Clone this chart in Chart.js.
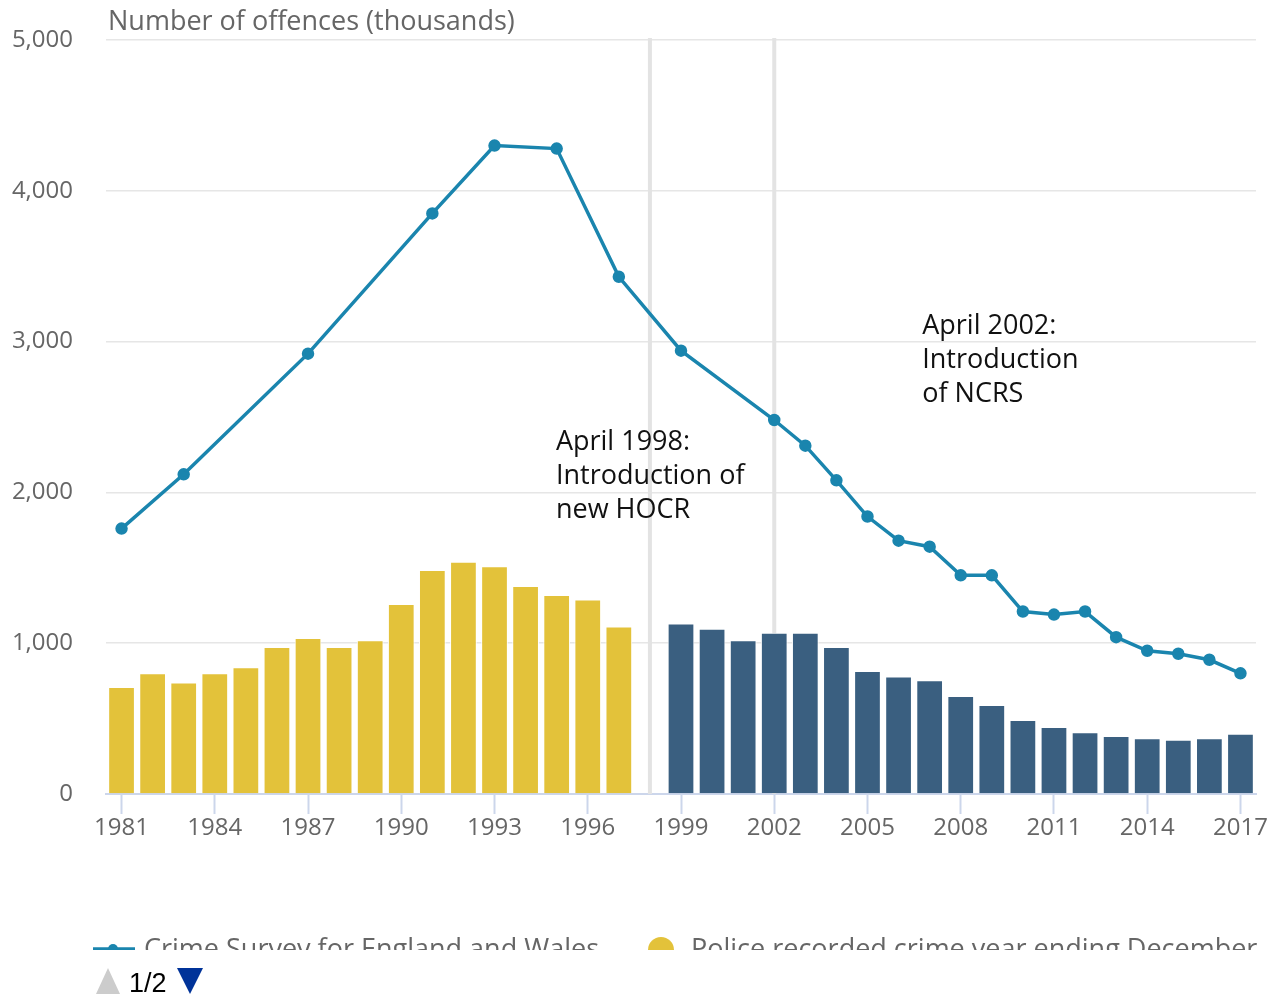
<!DOCTYPE html>
<html>
<head>
<meta charset="utf-8">
<script src="https://cdn.jsdelivr.net/npm/chart.js@4/dist/chart.umd.min.js"></script>
<style>
  body { margin: 0; background: #fff; font-family: 'Open Sans', sans-serif; }
  #wrap { position: relative; width: 1276px; height: 995px; }
  #legendClip { position: absolute; left: 0; top: 920px; width: 1276px; height: 30px; overflow: hidden; }
  .item { position: absolute; top: 9px; font-size: 27px; color: #666; white-space: nowrap; line-height: normal; }
  .sym { position: absolute; }
  #nav { position: absolute; left: 96px; top: 968px; height: 30px; font-family: 'Liberation Sans', Arial, sans-serif; font-size: 27px; color: #000; }
</style>
</head>
<body>
<div id="wrap">
  <canvas id="crimeChart" width="1276" height="995"></canvas>
  <div id="legendClip">
    <svg class="sym" style="left:93px;top:24px" width="42" height="10"><line x1="0" y1="5" x2="42" y2="5" stroke="#1a85ae" stroke-width="3.5"/><circle cx="20" cy="5" r="5" fill="#1a85ae"/></svg>
    <div class="item" style="left:144px">Crime Survey for England and Wales</div>
    <svg class="sym" style="left:647px;top:16px" width="28" height="28"><circle cx="14" cy="14" r="13" fill="#e3c23a"/></svg>
    <div class="item" style="left:691px">Police recorded crime year ending December</div>
  </div>
  <div id="nav">
    <svg width="24" height="26" style="position:absolute;left:0;top:0"><polygon points="12,0 24,26 0,26" fill="#cccccc"/></svg>
    <span style="position:absolute;left:33px;top:0">1/2</span>
    <svg width="26" height="26" style="position:absolute;left:81px;top:0"><polygon points="0,0 26,0 13,26" fill="#003399"/></svg>
  </div>
</div>
<script>
const years = ['1981','1982','1983','1984','1985','1986','1987','1988','1989','1990',
  '1991','1992','1993','1994','1995','1996','1997','1998','1999','2000',
  '2001','2002','2003','2004','2005','2006','2007','2008','2009','2010',
  '2011','2012','2013','2014','2015','2016','2017'];

// Crime Survey for England and Wales (thousands)
const csew = [1760, null, 2120, null, null, null, 2920, null, null, null,
  3850, null, 4300, null, 4280, null, 3430, null, 2940, null,
  null, 2480, 2310, 2080, 1840, 1680, 1640, 1450, 1450, 1210,
  1190, 1210, 1040, 950, 930, 890, 800];

// Police recorded crime, year ending December (1981-1997)
const prcDec = [710, 800, 740, 800, 840, 975, 1035, 975, 1020, 1260,
  1485, 1540, 1510, 1380, 1320, 1290, 1110, null, null, null,
  null, null, null, null, null, null, null, null, null, null,
  null, null, null, null, null, null, null];

// Police recorded crime, year ending March (1999-2017)
const prcMar = [null, null, null, null, null, null, null, null, null, null,
  null, null, null, null, null, null, null, null, 1130, 1095,
  1020, 1070, 1070, 975, 815, 780, 755, 650, 590, 490,
  445, 410, 385, 370, 360, 370, 400];

const refLines = ['1998', '2002'];
const notes = [
  { year: '1998', dx: -94, y: 2330, lines: ['April 1998:', 'Introduction of', 'new HOCR'] },
  { year: '2002', dx: 148, y: 3100, lines: ['April 2002:', 'Introduction', 'of NCRS'] }
];

const extras = {
  id: 'extras',
  beforeDatasetsDraw(chart) {
    const { ctx, chartArea, scales } = chart;
    ctx.save();
    ctx.strokeStyle = '#e3e3e3';
    ctx.lineWidth = 4;
    refLines.forEach(y => {
      const x = scales.x.getPixelForValue(years.indexOf(y));
      ctx.beginPath();
      ctx.moveTo(x, chartArea.top - 2);
      ctx.lineTo(x, chartArea.bottom);
      ctx.stroke();
    });
    ctx.restore();
  },
  afterDraw(chart) {
    const { ctx, chartArea, scales } = chart;
    ctx.save();
    ctx.font = '27px "Open Sans"';
    ctx.textBaseline = 'middle';
    ctx.fillStyle = '#666';
    ctx.fillText('Number of offences (thousands)', chartArea.left + 2, 22);
    ctx.fillStyle = '#111';
    notes.forEach(n => {
      const x = scales.x.getPixelForValue(years.indexOf(n.year)) + n.dx;
      const y0 = scales.y.getPixelForValue(n.y);
      n.lines.forEach((t, i) => ctx.fillText(t, x, y0 + i * 34));
    });
    ctx.restore();
  }
};

Chart.defaults.font.family = '"Open Sans", sans-serif';
Chart.defaults.font.size = 24;
Chart.defaults.color = '#666';

new Chart(document.getElementById('crimeChart').getContext('2d'), {
  type: 'bar',
  data: {
    labels: years,
    datasets: [
      {
        type: 'line',
        label: 'Crime Survey for England and Wales',
        data: csew,
        borderColor: '#1a85ae',
        backgroundColor: '#1a85ae',
        borderWidth: 3.5,
        pointRadius: 4.5,
        spanGaps: true,
        fill: false
      },
      {
        label: 'Police recorded crime year ending December',
        data: prcDec,
        backgroundColor: '#e3c23a',
        borderColor: '#ffffff',
        borderWidth: 1,
        grouped: false,
        barPercentage: 0.86,
        categoryPercentage: 1
      },
      {
        label: 'Police recorded crime year ending March',
        data: prcMar,
        backgroundColor: '#3a5f80',
        borderColor: '#ffffff',
        borderWidth: 1,
        grouped: false,
        barPercentage: 0.86,
        categoryPercentage: 1
      }
    ]
  },
  options: {
    responsive: false,
    animation: false,
    layout: { padding: { top: 40, right: 20, bottom: 141, left: 0 } },
    plugins: { legend: { display: false }, tooltip: { enabled: false } },
    scales: {
      x: {
        offset: true,
        grid: { offset: false, drawOnChartArea: false, tickLength: 20, tickColor: '#ccd6eb', tickWidth: 2 },
        border: { color: '#ccd6eb', width: 2 },
        ticks: {
          autoSkip: false,
          maxRotation: 0,
          padding: 0,
          callback: (v, i) => ((i % 3 === 0) ? years[i] : null)
        },
        afterFit: s => { s.height = 60; }
      },
      y: {
        min: 0,
        max: 5000,
        grid: { color: '#e6e6e6', lineWidth: 1.5, drawTicks: true, tickLength: 33, tickColor: 'rgba(0,0,0,0)' },
        border: { display: false },
        ticks: { stepSize: 1000, padding: 0 },
        afterFit: s => { s.width = 106; }
      }
    }
  },
  plugins: [extras]
});
</script>
</body>
</html>
